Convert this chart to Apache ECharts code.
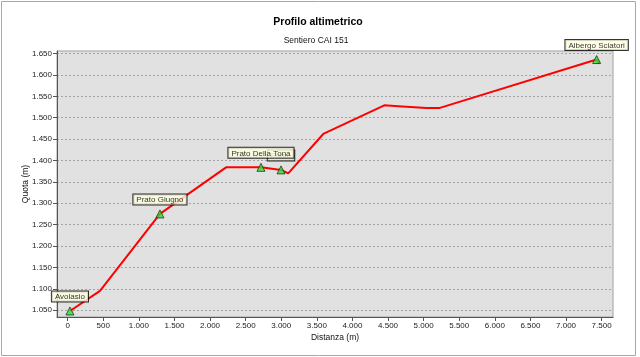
<!DOCTYPE html>
<html><head><meta charset="utf-8">
<script src="https://cdn.jsdelivr.net/npm/echarts@6/dist/echarts.min.js"></script>
<style>html,body{margin:0;padding:0;background:#fff}#c{width:640px;height:357px}</style>
</head><body><div id="c"></div>
<script>
// Profile vertices (distance in m, elevation in m)
const profileDistance  = [32, 454, 1296, 2225, 2715, 2997, 3098, 3590, 4447, 4643, 5042, 5229, 7430, 7466];
const profileElevation = [1048, 1095, 1275, 1384, 1384, 1378, 1370, 1462, 1529, 1527, 1523, 1523, 1636, 1626];
// Points of interest
const poiNames     = ['Avolasio', 'Prato Giugno', 'Fonte', 'Prato Della Tona', 'Albergo Sciatori'];
const poiDistance  = [32, 1296, 2997, 2715, 7430];
const poiElevation = [1048, 1275, 1378, 1384, 1636];
// Tick labels
const xTicks = [0, 500, 1000, 1500, 2000, 2500, 3000, 3500, 4000, 4500, 5000, 5500, 6000, 6500, 7000, 7500];
const yTicks = [1050, 1100, 1150, 1200, 1250, 1300, 1350, 1400, 1450, 1500, 1550, 1600, 1650];

const titleText = 'Profilo altimetrico';
const subtitleText = 'Sentiero CAI 151';

function fmt(v) {
  const s = String(Math.round(v));
  return s.replace(/\B(?=(\d{3})+(?!\d))/g, '.');
}

const FONT = 'Liberation Sans, Arial, sans-serif';
const chart = echarts.init(document.getElementById('c'), null, {renderer: 'canvas'});

const option = {
  animation: false,
  textStyle: {fontFamily: FONT},
  graphic: [
    {type: 'rect', shape: {x: 1.5, y: 1.5, width: 634, height: 354}, style: {fill: 'none', stroke: '#a8a8a8', lineWidth: 1}, silent: true, z: -10},
    {type: 'text', x: 318, y: 22.5, style: {text: titleText, font: 'bold 10.5px ' + FONT, fill: '#000', textAlign: 'center', textVerticalAlign: 'middle'}},
    {type: 'text', x: 316, y: 40.5, style: {text: subtitleText, font: '8.5px ' + FONT, fill: '#111', textAlign: 'center', textVerticalAlign: 'middle'}}
  ],
  grid: {
    left: 57, right: 27, top: 51, bottom: 40,
    show: true, backgroundColor: '#e1e1e1', borderColor: '#a0a0a0', borderWidth: 1,
    containLabel: false
  },
  xAxis: {
    type: 'value', min: -150, max: 7660, splitNumber: 15, minInterval: 500, maxInterval: 500,
    name: 'Distanza (m)', nameLocation: 'middle', nameGap: 16, nameMoveOverlap: false,
    nameTextStyle: {fontSize: 8.5, color: '#111', fontFamily: FONT},
    axisLine: {show: true, onZero: false, lineStyle: {color: '#555', width: 1}},
    axisTick: {show: true, length: 4, customValues: xTicks, lineStyle: {color: '#555'}},
    axisLabel: {fontSize: 8, color: '#222', margin: 5, customValues: xTicks, formatter: fmt, fontFamily: FONT},
    splitLine: {show: false}
  },
  yAxis: {
    type: 'value', min: 1034, max: 1656, splitNumber: 12, minInterval: 50, maxInterval: 50,
    name: 'Quota (m)', nameLocation: 'middle', nameGap: 27, nameRotate: 90, nameMoveOverlap: false,
    nameTextStyle: {fontSize: 8.5, color: '#111', fontFamily: FONT},
    axisLine: {show: true, onZero: false, lineStyle: {color: '#555', width: 1}},
    axisTick: {show: true, length: 4, customValues: yTicks, lineStyle: {color: '#555'}},
    axisLabel: {fontSize: 8, color: '#222', margin: 5, customValues: yTicks, formatter: fmt, fontFamily: FONT},
    splitLine: {show: true, lineStyle: {color: '#a4a4a4', type: [2, 2], width: 1}}
  },
  series: [
    {
      type: 'line',
      data: profileDistance.map((d, i) => [d, profileElevation[i]]),
      showSymbol: false, symbol: 'none',
      lineStyle: {color: '#ff0000', width: 2},
      z: 2, silent: true
    },
    {
      type: 'scatter',
      data: poiNames.map((n, i) => ({name: n, value: [poiDistance[i], poiElevation[i]]})),
      symbol: 'triangle', symbolSize: [8, 8],
      itemStyle: {color: '#33dd33', borderColor: '#1a3a1a', borderWidth: 1},
      label: {
        show: true, position: 'top', distance: 5,
        formatter: p => p.name,
        fontSize: 8, color: '#000', fontFamily: FONT,
        backgroundColor: '#ffffe1', borderColor: '#000', borderWidth: 1,
        padding: [1, 3, 0, 3], lineHeight: 9
      },
      labelLayout: {hideOverlap: false},
      z: 3, silent: true
    }
  ]
};
chart.setOption(option);
</script>
</body></html>
